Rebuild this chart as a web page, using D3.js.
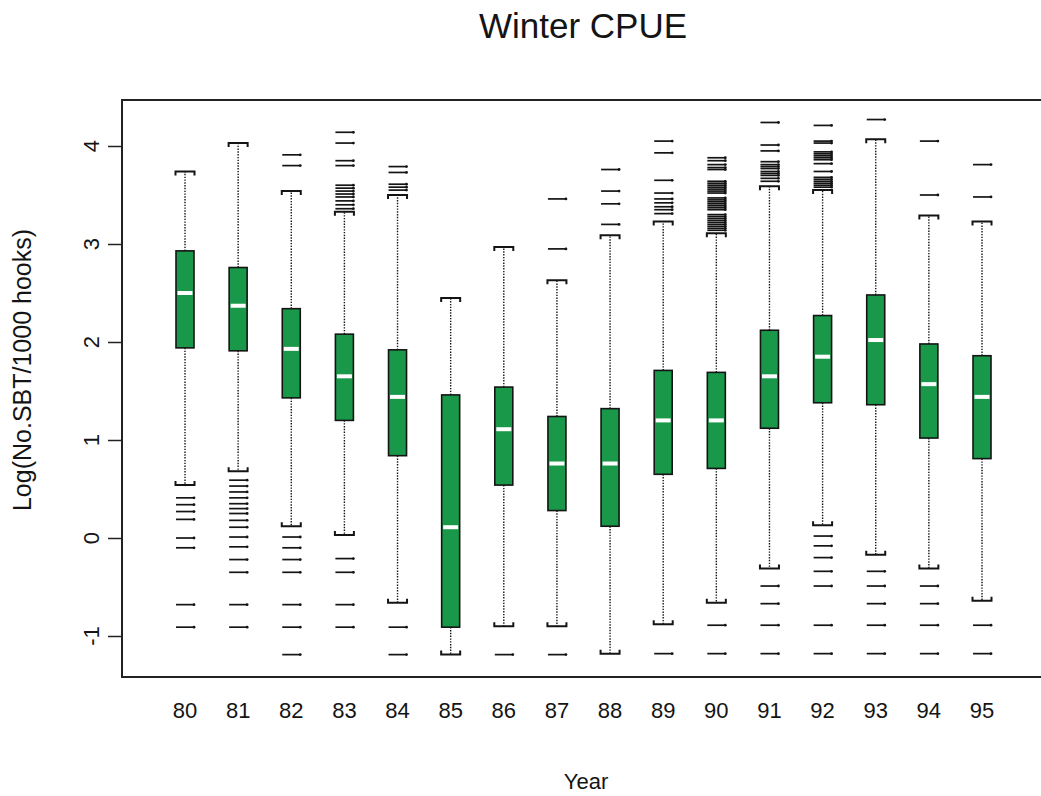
<!DOCTYPE html>
<html>
<head>
<meta charset="utf-8">
<script src="https://cdn.jsdelivr.net/npm/d3@7"></script>
<style>
  html, body { margin: 0; padding: 0; background: #fff; }
  svg { display: block; font-family: "Liberation Sans", Arial, Helvetica, sans-serif; }
</style>
</head>
<body>
<svg id="chart" width="1041" height="796"></svg>
<script>
// Winter CPUE by year: box statistics on the log scale
const years = [80, 81, 82, 83, 84, 85, 86, 87, 88, 89, 90, 91, 92, 93, 94, 95];
const upperQuartile = [2.93, 2.76, 2.34, 2.08, 1.92, 1.46, 1.54, 1.24, 1.32, 1.71, 1.69, 2.12, 2.27, 2.48, 1.98, 1.86];
const medians       = [2.50, 2.37, 1.93, 1.65, 1.44, 0.11, 1.11, 0.76, 0.76, 1.20, 1.20, 1.65, 1.85, 2.02, 1.57, 1.44];
const lowerQuartile = [1.94, 1.91, 1.43, 1.20, 0.84, -0.91, 0.54, 0.28, 0.12, 0.65, 0.71, 1.12, 1.38, 1.36, 1.02, 0.81];
const whiskerHigh   = [3.74, 4.03, 3.54, 3.33, 3.50, 2.45, 2.97, 2.63, 3.09, 3.23, 3.11, 3.59, 3.55, 4.07, 3.29, 3.23];
const whiskerLow    = [0.54, 0.68, 0.12, 0.03, -0.66, -1.19, -0.90, -0.90, -1.18, -0.88, -0.66, -0.31, 0.13, -0.17, -0.31, -0.64];
const outliers = [
  [0.41, 0.34, 0.27, 0.19, 0.00, -0.10, -0.68, -0.91],
  [0.59, 0.53, 0.47, 0.41, 0.35, 0.30, 0.25, 0.18, 0.11, 0.01, -0.09, -0.22, -0.35, -0.68, -0.91],
  [3.91, 3.80, 0.01, -0.10, -0.22, -0.35, -0.68, -0.91, -1.19],
  [4.14, 4.03, 3.85, 3.80, 3.60, 3.57, 3.54, 3.51, 3.48, 3.44, 3.40, 3.36, -0.21, -0.35, -0.68, -0.91],
  [3.79, 3.73, 3.61, 3.58, 3.55, -0.91, -1.19],
  [],
  [-1.19],
  [3.46, 2.95, -1.19],
  [3.76, 3.54, 3.41, 3.20],
  [4.05, 3.93, 3.65, 3.52, 3.46, 3.42, 3.38, 3.35, 3.31, -1.18],
  [3.88, 3.85, 3.81, 3.78, 3.76, 3.64, 3.62, 3.60, 3.58, 3.56, 3.54, 3.52, 3.47, 3.45, 3.43, 3.41,
   3.39, 3.37, 3.35, 3.30, 3.28, 3.26, 3.24, 3.22, 3.20, 3.18, 3.16, 3.14, -0.89, -1.18],
  [4.24, 4.01, 3.95, 3.84, 3.81, 3.79, 3.77, 3.74, 3.72, 3.70, 3.67, 3.64, -0.49, -0.67, -0.89, -1.18],
  [4.21, 4.05, 4.03, 3.94, 3.92, 3.90, 3.88, 3.86, 3.82, 3.74, 3.68, 3.66, 3.64, 3.62, 3.60, 3.58,
   0.02, -0.08, -0.20, -0.34, -0.49, -0.89, -1.18],
  [4.27, -0.34, -0.49, -0.67, -0.89, -1.18],
  [4.05, 3.50, -0.49, -0.67, -0.89, -1.18],
  [3.81, 3.48, -0.89, -1.18]
];
const yTicks = [-1, 0, 1, 2, 3, 4];
const titleText = "Winter CPUE";
const xTitle = "Year";
const yTitle = "Log(No.SBT/1000 hooks)";

const boxFill = "#19984a";
const ink = "#141414";

const svg = d3.select("#chart");
const plot = { left: 122, top: 100, right: 1041, bottom: 677 };

const x = d3.scalePoint().domain(years).range([185, 982]);
const y = d3.scaleLinear().domain([-1, 4]).range([636, 146]);

const half = 9;      // half box width
const capHalf = 9.5; // half staple width
const tip = 4;       // staple end length

// plot frame
svg.append("rect")
  .attr("x", plot.left).attr("y", plot.top)
  .attr("width", plot.right - plot.left + 2).attr("height", plot.bottom - plot.top)
  .attr("fill", "none").attr("stroke", "#222").attr("stroke-width", 2);

// y axis
const yAxis = d3.axisLeft(y).tickValues(yTicks).tickSize(14).tickFormat("");
const ya = svg.append("g").attr("transform", `translate(${plot.left},0)`).call(yAxis);
ya.select(".domain").remove();
ya.selectAll(".tick line").attr("stroke", "#222").attr("stroke-width", 1.5);
svg.append("g").selectAll("text").data(yTicks).join("text")
  .attr("transform", d => `translate(99,${y(d)}) rotate(-90)`)
  .attr("text-anchor", "middle")
  .attr("font-size", 22).attr("fill", ink)
  .text(d => d);

// x labels (no tick marks)
svg.append("g").selectAll("text").data(years).join("text")
  .attr("x", d => x(d)).attr("y", 718)
  .attr("text-anchor", "middle")
  .attr("font-size", 22).attr("fill", ink)
  .text(d => d);

// titles
svg.append("text").attr("x", 583).attr("y", 38).attr("text-anchor", "middle")
  .attr("font-size", 35).attr("fill", ink).text(titleText);
svg.append("text").attr("x", 586).attr("y", 789).attr("text-anchor", "middle")
  .attr("font-size", 22).attr("fill", ink).text(xTitle);
svg.append("text").attr("transform", "translate(31,370) rotate(-90)")
  .attr("text-anchor", "middle").attr("font-size", 25).attr("fill", ink).text(yTitle);

const stats = years.map((yr, i) => ({
  yr, q1: lowerQuartile[i], med: medians[i], q3: upperQuartile[i],
  lo: whiskerLow[i], hi: whiskerHigh[i], out: outliers[i]
}));

const g = svg.append("g");
const boxes = g.selectAll("g.box").data(stats).join("g").attr("class", "box");

// dotted whiskers
boxes.append("line")
  .attr("x1", d => x(d.yr)).attr("x2", d => x(d.yr))
  .attr("y1", d => y(d.q3)).attr("y2", d => y(d.hi))
  .attr("stroke", ink).attr("stroke-width", 1.4).attr("stroke-dasharray", "1.4,1.4");
boxes.append("line")
  .attr("x1", d => x(d.yr)).attr("x2", d => x(d.yr))
  .attr("y1", d => y(d.q1)).attr("y2", d => y(d.lo))
  .attr("stroke", ink).attr("stroke-width", 1.4).attr("stroke-dasharray", "1.4,1.4");

// bracket-shaped staples
boxes.append("path")
  .attr("d", d => {
    const cx = x(d.yr), cy = y(d.hi);
    return `M${cx - capHalf},${cy + tip}V${cy}H${cx + capHalf}V${cy + tip}`;
  })
  .attr("fill", "none").attr("stroke", ink).attr("stroke-width", 2);
boxes.append("path")
  .attr("d", d => {
    const cx = x(d.yr), cy = y(d.lo);
    return `M${cx - capHalf},${cy - tip}V${cy}H${cx + capHalf}V${cy - tip}`;
  })
  .attr("fill", "none").attr("stroke", ink).attr("stroke-width", 2);

// boxes
boxes.append("rect")
  .attr("x", d => x(d.yr) - half).attr("width", half * 2)
  .attr("y", d => y(d.q3)).attr("height", d => y(d.q1) - y(d.q3))
  .attr("fill", boxFill).attr("stroke", ink).attr("stroke-width", 1.6);

// medians
boxes.append("rect")
  .attr("x", d => x(d.yr) - half + 1.5).attr("width", half * 2 - 3)
  .attr("y", d => y(d.med) - 2).attr("height", 4)
  .attr("fill", "#ffffff");

// outliers drawn as short dashes
const outs = boxes.selectAll("g.out").data(d => d.out.map(v => ({ yr: d.yr, v }))).join("g").attr("class", "out");
outs.append("line")
  .attr("x1", d => x(d.yr) - half).attr("x2", d => x(d.yr) + half)
  .attr("y1", d => y(d.v)).attr("y2", d => y(d.v))
  .attr("stroke", ink).attr("stroke-width", 1.7);
outs.append("circle")
  .attr("cx", d => x(d.yr) + half).attr("cy", d => y(d.v)).attr("r", 1.4)
  .attr("fill", ink);
</script>
</body>
</html>
